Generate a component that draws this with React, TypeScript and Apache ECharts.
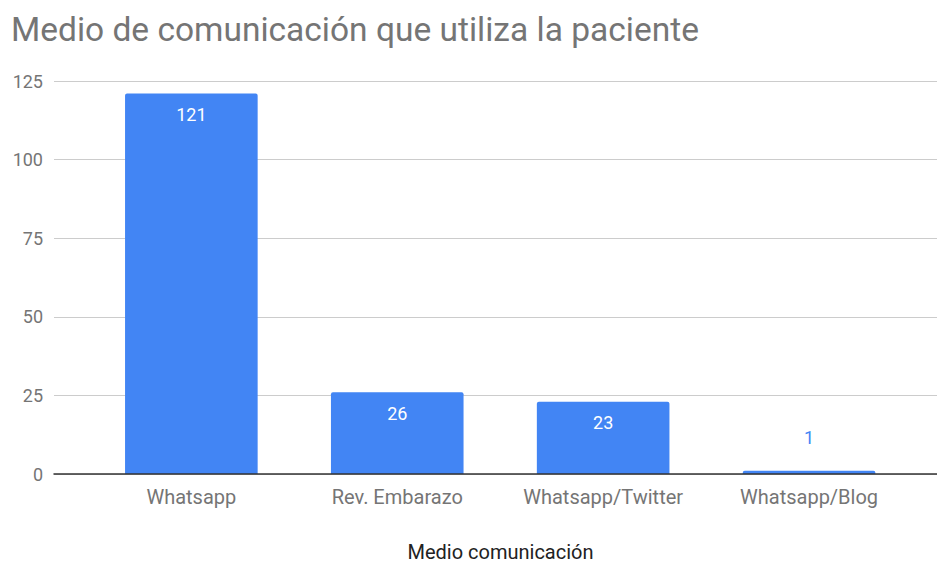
import React, { useEffect, useRef } from "react";
import * as echarts from "echarts";

const categories = ["Whatsapp", "Rev. Embarazo", "Whatsapp/Twitter", "Whatsapp/Blog"];
const values = [121, 26, 23, 1];
const yMin = 0;
const yMax = 125;
const yInterval = 25;
const title = "Medio de comunicación que utiliza la paciente";
const xAxisName = "Medio comunicación";

export default function App() {
  const ref = useRef<HTMLDivElement>(null);
  useEffect(() => {
    document.body.style.margin = "0";
    const chart = echarts.init(ref.current!, null, { renderer: "svg" });
    const font = "Roboto";
    chart.setOption({
      animation: false,
      textStyle: { fontFamily: font },
      title: {
        text: title,
        left: 6,
        top: 7,
        textStyle: { fontFamily: font, fontSize: 33.5, fontWeight: "normal", color: "#757575" },
      },
      grid: [
        { left: 54, right: 0, top: 81, bottom: 87, containLabel: false, outerBoundsMode: "none" },
        { left: 88.4, right: 25, top: 81, bottom: 87, containLabel: false, outerBoundsMode: "none" },
      ],
      xAxis: [
        {
          gridIndex: 0,
          type: "category",
          data: [""],
          axisLine: { show: true, lineStyle: { color: "#333333", width: 1.5 } },
          axisTick: { show: false },
          axisLabel: { show: false },
          name: xAxisName,
          nameLocation: "middle",
          nameGap: 68,
          nameTextStyle: {
            fontFamily: font,
            fontSize: 20,
            lineHeight: 20,
            color: "#222222",
            padding: [0, 0, 0, 10],
          },
          z: 5,
        },
        {
          gridIndex: 1,
          type: "category",
          data: categories,
          axisLine: { show: false },
          axisTick: { show: false },
          axisLabel: { fontFamily: font, fontSize: 20, color: "#757575", margin: 13, interval: 0 },
        },
      ],
      yAxis: [
        {
          gridIndex: 0,
          type: "value",
          min: yMin,
          max: yMax,
          interval: yInterval,
          axisLine: { show: false },
          axisTick: { show: false },
          axisLabel: { fontFamily: font, fontSize: 18, color: "#757575", margin: 11 },
          splitLine: { lineStyle: { color: "#cccccc", width: 1 } },
        },
        {
          gridIndex: 1,
          type: "value",
          min: yMin,
          max: yMax,
          interval: yInterval,
          show: false,
          splitLine: { show: false },
        },
      ],
      series: [
        {
          type: "bar",
          xAxisIndex: 1,
          yAxisIndex: 1,
          barWidth: "64.4%",
          itemStyle: { color: "#4285F4", borderRadius: [2, 2, 0, 0] },
          label: {
            show: true,
            position: "insideTop",
            distance: 12,
            color: "#ffffff",
            fontFamily: font,
            fontSize: 18,
          },
          data: values.map((v) =>
            v < 5
              ? { value: v, label: { position: "top", distance: 24, color: "#4285F4" } }
              : { value: v }
          ),
        },
      ],
    });
    return () => chart.dispose();
  }, []);
  return <div ref={ref} style={{ width: 937, height: 561 }} />;
}
